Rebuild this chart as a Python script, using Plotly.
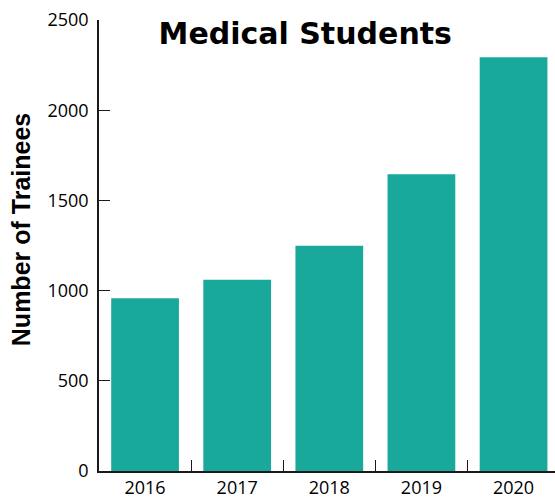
import plotly.graph_objects as go

years = ["2016", "2017", "2018", "2019", "2020"]
trainees = [957, 1060, 1248, 1645, 2293]
y_ticks = [0, 500, 1000, 1500, 2000, 2500]

fig = go.Figure(go.Bar(
    x=years, y=trainees,
    marker=dict(color="#18A99B", line=dict(width=0)),
))

fig.update_layout(
    width=555, height=500,
    margin=dict(l=99, r=0, t=20, b=29, pad=0),
    paper_bgcolor="white", plot_bgcolor="white",
    bargap=0.265,
    showlegend=False,
    title=dict(text="<b>Medical Students</b>", x=0.55, xref="container", xanchor="center",
               y=1 - 33 / 500, yref="container", yanchor="middle",
               font=dict(family="DejaVu Sans", size=30, color="black")),
    font=dict(family="Open Sans", color="black"),
    annotations=[dict(
        text="<b>Number of Trainees</b>", textangle=-90,
        xref="paper", yref="paper", x=-0.171, y=0.534,
        xanchor="center", yanchor="middle", showarrow=False,
        font=dict(family="Liberation Sans", size=25, color="black"),
    )],
)
fig.update_xaxes(
    type="category", range=[-0.5, 4.45], automargin=False,
    showline=True, linecolor="#1a1a1a", linewidth=1.5,
    ticks="inside", tickson="boundaries", ticklen=11, tickwidth=1.2, tickcolor="#1a1a1a",
    tickfont=dict(size=18), showgrid=False, zeroline=False,
)
fig.update_yaxes(
    range=[0, 2500], tickvals=y_ticks, automargin=False,
    showline=True, linecolor="#1a1a1a", linewidth=1.5,
    ticks="inside", ticklen=11, tickwidth=1.2, tickcolor="#1a1a1a",
    tickfont=dict(size=18), showgrid=False, zeroline=False,
    ticklabelstandoff=5,
)

fig.write_html("out.html", config={"displayModeBar": False},
               post_script="document.body.style.margin='0';")
